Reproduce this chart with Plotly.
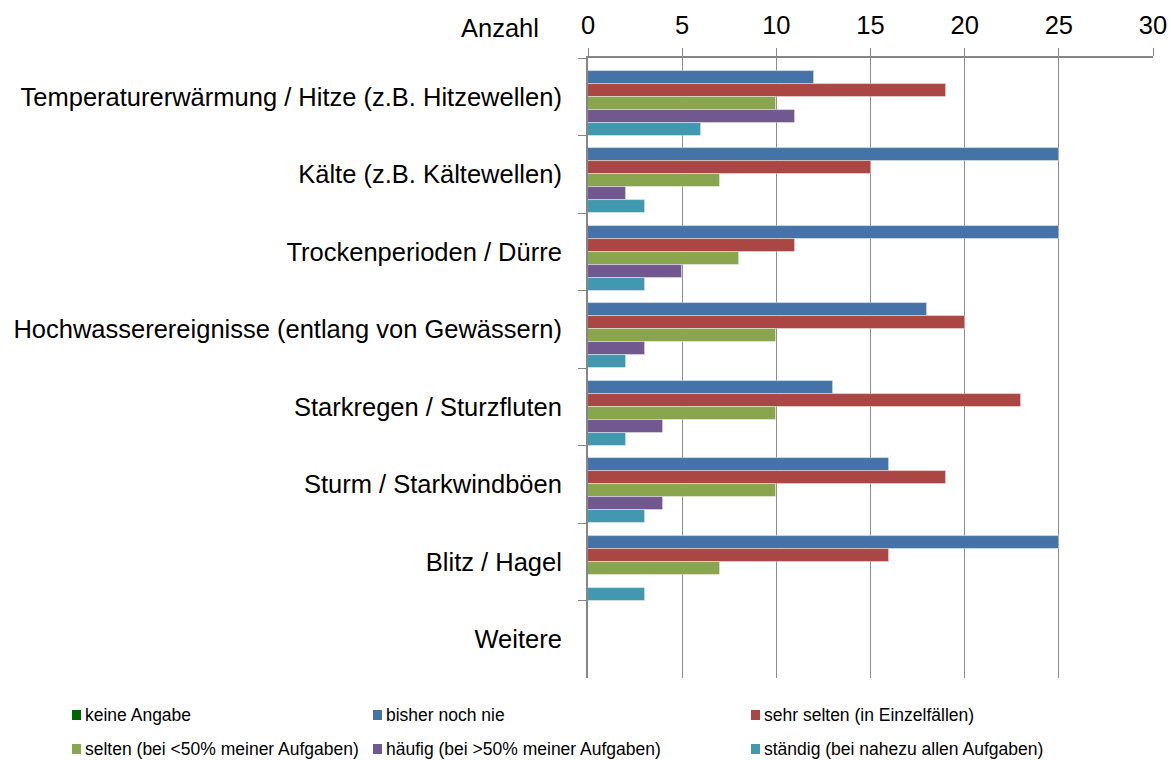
import plotly.graph_objects as go

categories = [
    "Temperaturerwärmung / Hitze (z.B. Hitzewellen)",
    "Kälte (z.B. Kältewellen)",
    "Trockenperioden / Dürre",
    "Hochwasserereignisse (entlang von Gewässern)",
    "Starkregen / Sturzfluten",
    "Sturm / Starkwindböen",
    "Blitz / Hagel",
    "Weitere",
]

keine_angabe = [0, 0, 0, 0, 0, 0, 0, 0]
bisher_noch_nie = [12, 25, 25, 18, 13, 16, 25, 0]
sehr_selten = [19, 15, 11, 20, 23, 19, 16, 0]
selten = [10, 7, 8, 10, 10, 10, 7, 0]
haeufig = [11, 2, 5, 3, 4, 4, 0, 0]
staendig = [6, 3, 3, 2, 2, 3, 3, 0]

series_names = [
    "keine Angabe",
    "bisher noch nie",
    "sehr selten (in Einzelfällen)",
    "selten (bei <50% meiner Aufgaben)",
    "häufig (bei >50% meiner Aufgaben)",
    "ständig (bei nahezu allen Aufgaben)",
]
series_values = [keine_angabe, bisher_noch_nie, sehr_selten, selten, haeufig, staendig]
colors = ["#006400", "#4572A7", "#AA4643", "#89A54E", "#71588F", "#4198AF"]

W, H = 1171, 760
ML, MR, MT, MB = 588, 18, 58, 82
PW, PH = W - ML - MR, H - MT - MB


def px_x(px):
    return (px - ML) / PW


def px_y(py):
    return (H - MB - py) / PH


fig = go.Figure()
for name, vals, color in zip(series_names, series_values, colors):
    fig.add_trace(go.Bar(
        y=categories, x=vals, name=name, orientation="h",
        marker=dict(color=color, line=dict(color="rgba(255,255,255,0.55)", width=0.8)),
        showlegend=False,
    ))

font = "Liberation Sans, Arial, sans-serif"
LABEL_SIZE = 25.5

# manual legend: 3 columns x 2 rows
col_marker_x = [72, 373, 751]
row_y = [715, 749]
shapes = []
annotations = []
for i, (name, color) in enumerate(zip(series_names, colors)):
    row, col = divmod(i, 3)
    mx = col_marker_x[col]
    my = row_y[row]
    shapes.append(dict(
        type="rect", xref="paper", yref="paper",
        x0=px_x(mx), x1=px_x(mx + 9), y0=px_y(my + 5), y1=px_y(my - 5),
        fillcolor=color, line=dict(width=0),
    ))
    annotations.append(dict(
        text=name, xref="paper", yref="paper", x=px_x(mx + 11), y=px_y(my),
        xanchor="left", yanchor="middle", showarrow=False,
        font=dict(family=font, size=17.5, color="#000000"),
    ))

annotations.append(dict(
    text="Anzahl", xref="paper", yref="paper", x=px_x(541), y=px_y(28),
    xanchor="right", yanchor="middle", showarrow=False,
    font=dict(family=font, size=LABEL_SIZE, color="#000000"),
))

fig.update_layout(
    width=W, height=H,
    paper_bgcolor="white", plot_bgcolor="white",
    margin=dict(l=ML, r=MR, t=MT, b=MB, autoexpand=False),
    barmode="group", bargap=0, bargroupgap=0,
    font=dict(family=font, size=LABEL_SIZE, color="#000000"),
    showlegend=False,
    xaxis=dict(
        side="top", range=[0, 30], tickvals=[0, 5, 10, 15, 20, 25, 30],
        showgrid=True, gridcolor="#8c8c8c", gridwidth=1,
        showline=True, linecolor="#868686", linewidth=1.5,
        ticks="outside", ticklen=8, tickcolor="#868686",
        tickfont=dict(family=font, size=LABEL_SIZE), zeroline=False, automargin=False,
        ticklabelstandoff=4,
    ),
    yaxis=dict(
        autorange="reversed", showline=True, linecolor="#868686", linewidth=2,
        ticks="outside", ticklen=8, tickcolor="#868686", tickson="boundaries",
        tickfont=dict(family=font, size=LABEL_SIZE), showgrid=False, automargin=False,
        ticklabelstandoff=19,
    ),
    shapes=shapes,
    annotations=annotations,
)

fig.write_html(
    "out.html",
    config={"displayModeBar": False},
    post_script="document.body.style.margin='0px';",
)
